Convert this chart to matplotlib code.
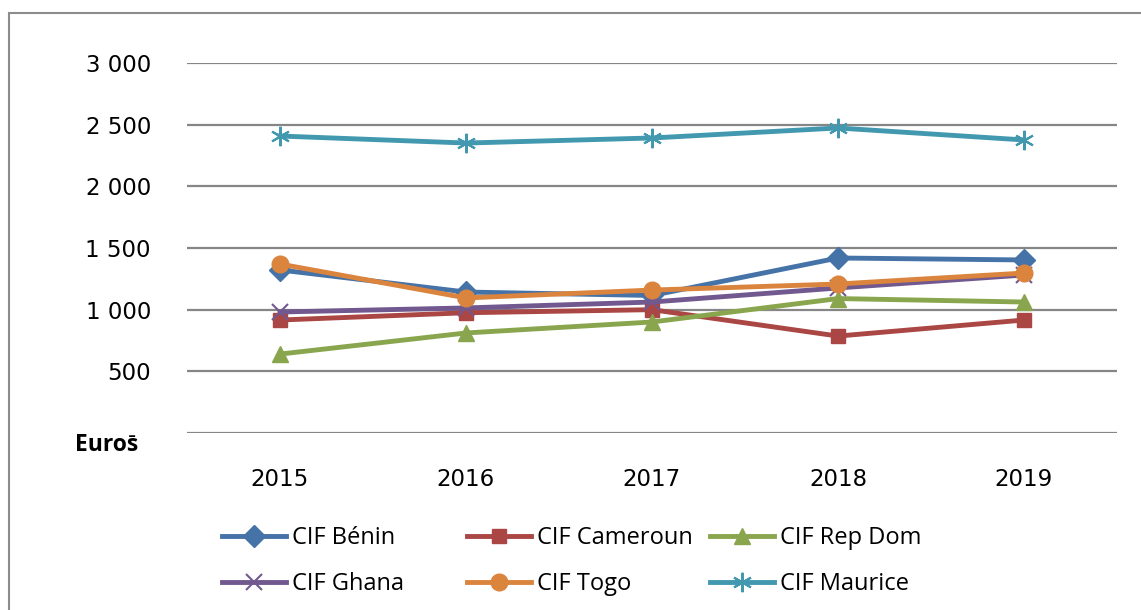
"""
Coût CIF par pays, 2015-2019 (Euros).
"""

import matplotlib
matplotlib.use("Agg")
import matplotlib.pyplot as plt
from matplotlib.patches import Rectangle


ANNEES = ["2015", "2016", "2017", "2018", "2019"]

BENIN = [1322, 1143, 1115, 1419, 1403]
CAMEROUN = [916, 975, 1000, 786, 916]
REP_DOM = [640, 811, 900, 1090, 1062]
GHANA = [981, 1014, 1062, 1176, 1281]
TOGO = [1370, 1095, 1159, 1208, 1297]
MAURICE = [2408, 2351, 2392, 2473, 2376]

Y_TICKS = [0, 500, 1000, 1500, 2000, 2500, 3000]
Y_LABELS = ["-  ", "500", "1 000", "1 500", "2 000", "2 500", "3 000"]

SERIES = [
    ("CIF Bénin", BENIN, "#4572A7", "D", 11),
    ("CIF Cameroun", CAMEROUN, "#AA4643", "s", 10),
    ("CIF Rep Dom", REP_DOM, "#89A54E", "^", 12),
    ("CIF Ghana", GHANA, "#71588F", "x", 11),
    ("CIF Togo", TOGO, "#DB843D", "o", 12),
    ("CIF Maurice", MAURICE, "#4198AF", (6, 2, 0), 14),
]

W, H = 1141, 610


def trace():
    fig = plt.figure(figsize=(W / 100, H / 100), dpi=100)
    ax = fig.add_axes([187 / W, 1 - 433 / H, (1117 - 187) / W, (433 - 63) / H])

    # cadre gris autour du graphique
    fig.add_artist(Rectangle((9 / W, -0.1), 1.2, 1.1 - 13 / H,
                             transform=fig.transFigure, fill=False,
                             edgecolor="#8c8c8c", lw=1.5, clip_on=False))

    x = list(range(len(ANNEES)))
    handles = []
    for nom, vals, couleur, marqueur, taille in SERIES:
        mew = 1.5 if marqueur in ("x", (6, 2, 0)) else 1
        ligne, = ax.plot(x, vals, color=couleur, lw=3.5, marker=marqueur,
                         markersize=taille, markeredgewidth=mew,
                         markeredgecolor=couleur, markerfacecolor=couleur,
                         label=nom, solid_joinstyle="round", clip_on=False)
        handles.append(ligne)

    ax.set_xlim(-0.5, len(ANNEES) - 0.5)
    ax.set_ylim(0, 3000)
    ax.set_xticks(x)
    ax.set_xticklabels(ANNEES, fontsize=16.5, family="DejaVu Sans")
    ax.set_yticks(Y_TICKS)
    ax.set_yticklabels(Y_LABELS, fontsize=16.5, family="DejaVu Sans")
    ax.tick_params(axis="both", length=0)
    ax.tick_params(axis="y", pad=26)
    ax.tick_params(axis="x", pad=25)

    for s in ax.spines.values():
        s.set_visible(False)
    ax.grid(axis="y", color="#868686", lw=1.6)
    ax.set_axisbelow(True)

    fig.text(75 / W, 1 - 445 / H, "Euros", fontsize=16.5, fontweight="bold",
             family="Open Sans", va="center", ha="left")

    # légende : 3 colonnes, 2 lignes
    col_x = [222, 467, 710]
    row_y = [538, 584]
    for i, h in enumerate(handles):
        cx = col_x[i % 3]
        cy = row_y[i // 3]
        leg = fig.legend([h], [h.get_label()], loc="center left",
                         bbox_to_anchor=(cx / W, 1 - cy / H),
                         frameon=False, borderpad=0, borderaxespad=0,
                         handlelength=2.7, handletextpad=0.25,
                         prop={"family": "Open Sans", "size": 17})
        leg.legend_handles[0].set_markersize(h.get_markersize())

    fig.savefig("out.png", dpi=100)
    plt.close(fig)


if __name__ == "__main__":
    trace()
